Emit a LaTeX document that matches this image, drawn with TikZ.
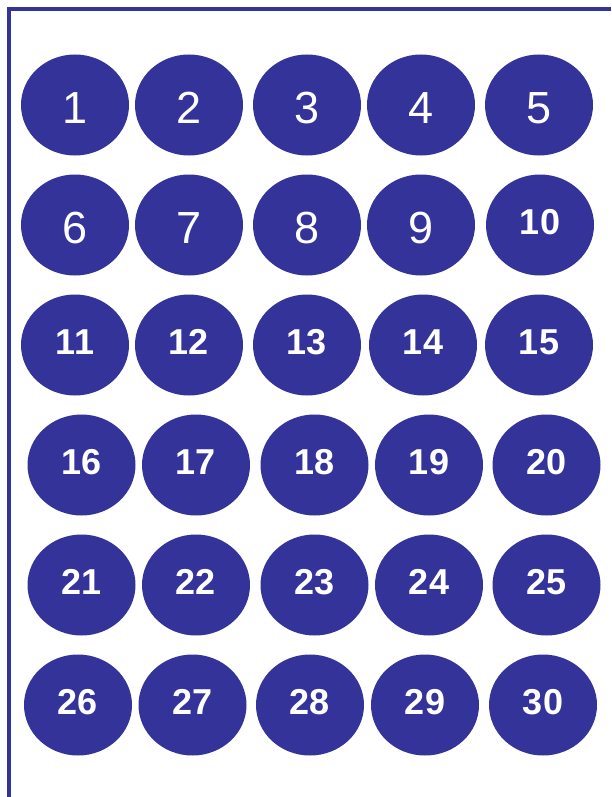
\documentclass[tikz,border=0pt]{standalone}
\usepackage{fontspec}
\setmainfont{Liberation Sans}
\usetikzlibrary{shapes.geometric}
\definecolor{navy}{HTML}{333399}
\begin{document}
\begin{tikzpicture}[x=1pt,y=-1pt,
  ball/.style={ellipse, fill=navy, draw=none, minimum width=108pt, minimum height=101pt, inner sep=0pt},
  plainnum/.style={text=white, inner sep=0pt, font=\fontsize{45}{54}\selectfont},
  boldnum/.style={text=white, inner sep=0pt, font=\fontsize{36}{43}\selectfont\bfseries},
  frameline/.style={draw=navy, line width=4.5pt}]
\useasboundingbox (0,0) rectangle (611,797);
\coordinate (tr) at (611,9.2);
\coordinate (tl) at (9.2,9.2);
\coordinate (bl) at (9.2,797);
\draw[frameline] (tr) -- (tl) -- (bl);
\foreach \n/\x/\y in {1/75/105, 2/189/105, 3/307/105, 4/421/105, 5/539/105,
                      6/75/225, 7/189/225, 8/307/225, 9/421/225}{
  \node[ball] (b\n) at (\x,\y) {};
  \node[plainnum] (t\n) at ([yshift=-3pt]b\n.center) {\n};
}
\foreach \n/\x/\y in {10/540/225,
                      11/75/345, 12/189/345, 13/307/345, 14/423/345, 15/539/345,
                      16/81.5/465, 17/196/465, 18/314.5/465, 19/429/465, 20/546.5/465,
                      21/81.5/585, 22/196/585, 23/314.5/585, 24/429/585, 25/546.5/585,
                      26/78/705, 27/192.5/705, 28/310/705, 29/425/705, 30/543/705}{
  \node[ball] (b\n) at (\x,\y) {};
  \node[boldnum] (t\n) at ([yshift=3pt]b\n.center) {\n};
}
\end{tikzpicture}
\end{document}
